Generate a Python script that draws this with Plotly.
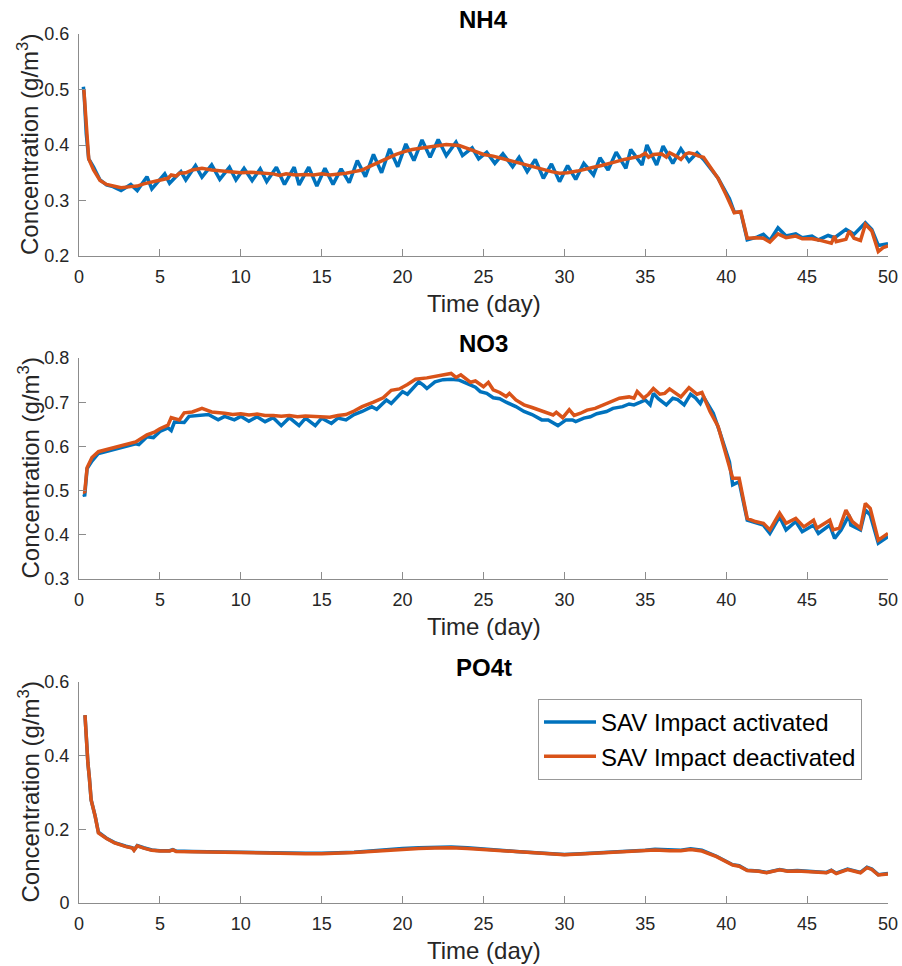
import plotly.graph_objects as go

# ---- NH4 (g/m3) ----
t_nh4_on = [0.27, 0.32, 0.45, 0.6, 0.9, 1.3, 1.7, 2.1, 2.6, 3.2, 3.6, 4.2, 4.5, 5.3, 5.6, 6.3, 6.6,
            7.2, 7.6, 8.2, 8.7, 9.3, 9.7, 10.2, 10.7, 11.2, 11.6, 12.2, 12.7, 13.3, 13.6, 14.2, 14.7,
            15.2, 15.7, 16.2, 16.7, 17.2, 17.7, 18.2, 18.7, 19.2, 19.7, 20.2, 20.7, 21.2, 21.7, 22.2,
            22.7, 23.3, 23.7, 24.3, 24.7, 25.2, 25.7, 26.2, 26.8, 27.2, 27.7, 28.2, 28.7, 29.2, 29.7,
            30.2, 30.7, 31.2, 31.8, 32.2, 32.7, 33.2, 33.8, 34.1, 34.8, 35.1, 35.7, 36.1, 36.7, 37.2,
            37.7, 38.2, 38.6, 39.0, 39.5, 40.2, 40.5, 40.9, 41.3, 41.9, 42.3, 42.7, 43.2, 43.7, 44.3,
            44.7, 45.3, 45.7, 46.3, 46.7, 47.4, 47.9, 48.6, 49.0, 49.4, 50.0]
nh4_on = [0.505, 0.49, 0.42, 0.375, 0.36, 0.337, 0.328, 0.325, 0.318, 0.329, 0.318, 0.343, 0.321, 0.348,
          0.331, 0.352, 0.337, 0.363, 0.342, 0.364, 0.338, 0.36, 0.337, 0.358, 0.336, 0.357, 0.334, 0.36,
          0.329, 0.36, 0.328, 0.36, 0.326, 0.358, 0.329, 0.357, 0.332, 0.372, 0.343, 0.383, 0.35, 0.393,
          0.361, 0.402, 0.372, 0.409, 0.378, 0.41, 0.381, 0.405, 0.381, 0.395, 0.375, 0.387, 0.367, 0.384,
          0.361, 0.378, 0.352, 0.374, 0.34, 0.366, 0.334, 0.363, 0.338, 0.367, 0.346, 0.377, 0.355, 0.387,
          0.358, 0.392, 0.364, 0.4, 0.364, 0.398, 0.367, 0.393, 0.371, 0.386, 0.374, 0.358, 0.34, 0.303,
          0.279, 0.279, 0.229, 0.234, 0.239, 0.228, 0.251, 0.236, 0.24, 0.233, 0.236, 0.229, 0.237, 0.233,
          0.248, 0.239, 0.26, 0.248, 0.219, 0.222]

t_nh4_off = [0.3, 0.35, 0.45, 0.6, 0.9, 1.3, 1.7, 2.1, 2.6, 3.2, 3.6, 4.0, 4.5, 5.0, 5.5, 5.7, 6.0, 6.2,
             6.6, 7.0, 7.6, 8.2, 8.8, 9.3, 10.0, 10.6, 11.3, 12.0, 12.4, 12.8, 13.4, 14.0, 14.5, 15.0, 15.5,
             16.0, 16.5, 17.0, 17.5, 18.0, 18.6, 19.1, 19.6, 20.1, 20.6, 21.1, 21.6, 22.1, 22.7, 23.1, 23.5,
             24.0, 24.5, 25.0, 25.6, 26.1, 26.6, 27.1, 27.7, 28.2, 28.7, 29.2, 29.7, 30.2, 30.8, 31.3, 31.8,
             32.3, 32.8, 33.2, 33.7, 34.2, 34.7, 35.0, 35.2, 35.5, 36.0, 36.3, 36.5, 36.9, 37.2, 37.5, 37.7,
             38.0, 38.3, 38.6, 39.0, 39.5, 40.0, 40.3, 40.5, 40.9, 41.3, 41.9, 42.3, 42.7, 43.2, 43.7, 44.3,
             44.7, 45.3, 45.7, 46.3, 46.5, 46.7, 46.8, 47.4, 47.6, 47.9, 48.3, 48.6, 49.0, 49.4, 49.7, 50.0]
nh4_off = [0.5, 0.48, 0.42, 0.375, 0.355, 0.336, 0.329, 0.326, 0.323, 0.325, 0.326, 0.33, 0.333, 0.336,
           0.34, 0.346, 0.344, 0.349, 0.35, 0.355, 0.358, 0.355, 0.353, 0.352, 0.35, 0.351, 0.349, 0.348,
           0.345, 0.348, 0.346, 0.347, 0.346, 0.348, 0.346, 0.347, 0.349, 0.352, 0.355, 0.362, 0.37, 0.376,
           0.383, 0.388, 0.392, 0.394, 0.396, 0.398, 0.401, 0.4, 0.399, 0.394, 0.389, 0.383, 0.38, 0.376,
           0.372, 0.368, 0.364, 0.36, 0.355, 0.352, 0.349, 0.35, 0.353, 0.357, 0.36, 0.363, 0.366, 0.37,
           0.374, 0.377, 0.38, 0.385, 0.378, 0.383, 0.384, 0.378, 0.386, 0.38, 0.374, 0.384, 0.386, 0.384,
           0.38, 0.378, 0.36, 0.34, 0.31, 0.29, 0.278, 0.28, 0.232, 0.233, 0.232, 0.225, 0.24, 0.233, 0.236,
           0.231, 0.231, 0.229, 0.225, 0.223, 0.236, 0.226, 0.23, 0.245, 0.232, 0.228, 0.257, 0.245, 0.208,
           0.215, 0.218]

# ---- NO3 (g/m3) ----
t_no3_on = [0.3, 0.35, 0.5, 0.8, 1.2, 1.8, 2.5, 3.0, 3.5, 3.7, 4.2, 4.6, 5.0, 5.5, 5.7, 5.9, 6.5, 6.8,
            7.5, 8.0, 8.6, 9.0, 9.6, 10.0, 10.5, 11.0, 11.5, 12.0, 12.5, 13.0, 13.6, 14.0, 14.6, 15.0,
            15.6, 16.0, 16.5, 17.0, 17.5, 18.1, 18.4, 18.8, 19.0, 19.3, 19.7, 20.0, 20.3, 20.7, 21.0,
            21.3, 21.5, 22.0, 22.5, 23.0, 23.5, 24.0, 24.5, 24.8, 25.2, 25.6, 26.0, 26.4, 27.0, 27.5,
            28.0, 28.6, 29.0, 29.6, 30.1, 30.5, 30.7, 31.2, 31.6, 32.0, 32.6, 33.0, 33.6, 34.0, 34.3,
            34.7, 35.0, 35.3, 35.5, 35.8, 36.3, 36.7, 37.0, 37.4, 37.8, 38.1, 38.4, 38.6, 39.2, 39.6,
            40.2, 40.4, 40.8, 41.3, 41.9, 42.3, 42.7, 43.3, 43.7, 44.3, 44.7, 45.4, 45.7, 46.4, 46.7,
            47.1, 47.6, 47.7, 48.3, 48.6, 48.9, 49.4, 50.0]
no3_on = [0.492, 0.487, 0.55, 0.567, 0.584, 0.59, 0.596, 0.6, 0.606, 0.604, 0.622, 0.62, 0.634, 0.642,
          0.636, 0.655, 0.654, 0.668, 0.671, 0.672, 0.66, 0.668, 0.66, 0.668, 0.657, 0.667, 0.656, 0.665,
          0.647, 0.665, 0.647, 0.664, 0.647, 0.664, 0.652, 0.664, 0.66, 0.672, 0.679, 0.69, 0.684, 0.698,
          0.705, 0.697, 0.714, 0.724, 0.718, 0.735, 0.746, 0.738, 0.731, 0.746, 0.751, 0.752, 0.75, 0.742,
          0.734, 0.724, 0.72, 0.71, 0.708, 0.7, 0.69, 0.679, 0.672, 0.66, 0.66, 0.647, 0.66, 0.66, 0.656,
          0.664, 0.667, 0.674, 0.679, 0.686, 0.69, 0.696, 0.694, 0.7, 0.705, 0.694, 0.72, 0.708, 0.694,
          0.709, 0.706, 0.694, 0.718, 0.71, 0.697, 0.712, 0.675, 0.633, 0.565, 0.513, 0.52, 0.433, 0.426,
          0.422, 0.403, 0.441, 0.411, 0.43, 0.407, 0.422, 0.403, 0.422, 0.392, 0.411, 0.445, 0.422, 0.411,
          0.456, 0.445, 0.381, 0.396]

t_no3_off = [0.3, 0.35, 0.5, 0.8, 1.2, 2.0, 2.5, 3.0, 3.5, 4.2, 4.7, 5.0, 5.5, 5.7, 6.2, 6.5, 7.0, 7.6,
             8.2, 9.0, 9.5, 10.0, 10.5, 11.0, 11.5, 12.0, 12.5, 13.0, 13.5, 14.0, 14.5, 15.0, 15.5, 16.0,
             16.5, 17.0, 17.5, 18.2, 18.8, 19.3, 19.8, 20.3, 20.8, 21.5, 22.0, 22.5, 23.0, 23.3, 23.6,
             24.2, 24.5, 25.0, 25.3, 25.6, 26.0, 26.4, 26.6, 27.0, 27.5, 28.0, 28.5, 29.0, 29.3, 29.5,
             29.9, 30.3, 30.6, 31.0, 31.4, 31.9, 32.4, 32.9, 33.4, 34.0, 34.3, 34.5, 34.9, 35.2, 35.5,
             35.9, 36.2, 36.5, 37.2, 37.7, 38.2, 38.5, 39.0, 39.5, 40.1, 40.4, 40.8, 41.3, 41.8, 42.3,
             42.7, 43.3, 43.7, 44.3, 44.8, 45.4, 45.6, 46.4, 46.6, 47.0, 47.4, 47.8, 48.3, 48.6, 48.9,
             49.4, 50.0]
no3_off = [0.497, 0.495, 0.552, 0.575, 0.588, 0.595, 0.6, 0.605, 0.61, 0.626, 0.633, 0.64, 0.648, 0.665,
           0.66, 0.676, 0.678, 0.686, 0.678, 0.675, 0.672, 0.674, 0.671, 0.673, 0.67, 0.67, 0.668, 0.67,
           0.667, 0.669, 0.668, 0.667, 0.666, 0.67, 0.672, 0.68, 0.69, 0.7, 0.71, 0.727, 0.73, 0.74, 0.752,
           0.755, 0.758, 0.763, 0.765, 0.756, 0.762, 0.745, 0.748, 0.735, 0.745, 0.728, 0.722, 0.713, 0.72,
           0.705, 0.694, 0.688, 0.682, 0.675, 0.671, 0.677, 0.665, 0.683, 0.67, 0.675, 0.682, 0.686, 0.694,
           0.7, 0.709, 0.712, 0.709, 0.724, 0.709, 0.718, 0.731, 0.718, 0.72, 0.73, 0.712, 0.733, 0.718,
           0.722, 0.679, 0.645, 0.565, 0.528, 0.528, 0.437, 0.43, 0.426, 0.411, 0.449, 0.426, 0.437, 0.418,
           0.433, 0.415, 0.433, 0.411, 0.415, 0.456, 0.43, 0.415, 0.471, 0.46, 0.388, 0.403]

# ---- PO4t (g/m3) ----
t_po4 = [0.37, 0.45, 0.55, 0.64, 0.75, 1.0, 1.2, 1.7, 2.2, 2.9, 3.3, 3.4, 3.6, 4.0, 4.5, 5.0, 5.6, 5.8,
         6.0, 7.0, 8.0, 9.0, 10.0, 11.0, 12.0, 13.0, 14.0, 15.0, 16.0, 17.0, 18.0, 19.0, 20.0, 21.0,
         22.0, 23.0, 24.0, 25.0, 26.0, 27.0, 28.0, 29.0, 30.0, 31.0, 32.0, 33.0, 34.0, 35.0, 35.6, 36.5,
         37.2, 37.8, 38.5, 39.4, 40.4, 40.8, 41.3, 42.0, 42.5, 43.3, 43.8, 44.4, 45.4, 46.2, 46.5, 46.8,
         47.5, 48.3, 48.7, 49.0, 49.4, 50.0]
po4_on = [0.51, 0.44, 0.38, 0.34, 0.28, 0.236, 0.192, 0.176, 0.164, 0.154, 0.15, 0.144, 0.156, 0.15,
          0.144, 0.142, 0.142, 0.145, 0.141, 0.14, 0.139, 0.138, 0.137, 0.137, 0.136, 0.136, 0.135, 0.135,
          0.136, 0.138, 0.141, 0.145, 0.148, 0.15, 0.151, 0.152, 0.15, 0.146, 0.143, 0.14, 0.137, 0.134,
          0.132, 0.134, 0.136, 0.138, 0.14, 0.143, 0.146, 0.144, 0.143, 0.147, 0.143, 0.127, 0.104, 0.101,
          0.089, 0.087, 0.083, 0.091, 0.087, 0.088, 0.085, 0.083, 0.089, 0.081, 0.092, 0.083, 0.097, 0.092,
          0.077, 0.08]
po4_off = [0.51, 0.44, 0.38, 0.34, 0.28, 0.235, 0.19, 0.175, 0.163, 0.153, 0.149, 0.143, 0.155, 0.149,
           0.143, 0.141, 0.141, 0.144, 0.14, 0.139, 0.138, 0.137, 0.136, 0.136, 0.135, 0.135, 0.134, 0.134,
           0.135, 0.137, 0.14, 0.143, 0.146, 0.148, 0.149, 0.15, 0.148, 0.145, 0.141, 0.139, 0.136, 0.133,
           0.131, 0.133, 0.135, 0.137, 0.139, 0.141, 0.144, 0.142, 0.142, 0.145, 0.141, 0.126, 0.103, 0.1,
           0.088, 0.086, 0.082, 0.09, 0.086, 0.087, 0.084, 0.082, 0.088, 0.08, 0.091, 0.082, 0.096, 0.091,
           0.076, 0.079]

panel_titles = ["NH4", "NO3", "PO4t"]
series_names = ["SAV Impact activated", "SAV Impact deactivated"]
x_ticks = [0, 5, 10, 15, 20, 25, 30, 35, 40, 45, 50]
y_ticks = [[0.2, 0.3, 0.4, 0.5, 0.6],
           [0.3, 0.4, 0.5, 0.6, 0.7, 0.8],
           [0, 0.2, 0.4, 0.6]]
y_tick_text = [["0.2", "0.3", "0.4", "0.5", "0.6"],
               ["0.3", "0.4", "0.5", "0.6", "0.7", "0.8"],
               ["0", "0.2", "0.4", "0.6"]]
y_ranges = [[0.2, 0.6], [0.3, 0.8], [0, 0.6]]

BLUE = "#0072BD"
ORANGE = "#D95319"
AXIS = "#8c8c8c"
FONT = "Liberation Sans, Arial, sans-serif"

W, H = 902, 966
# pixel layout of each panel (top, bottom) and the shared horizontal extent
panels_px = [(34, 256), (358, 579), (682, 903)]
x_left, x_right = 79, 888

data = [
    ((t_nh4_on, nh4_on), (t_nh4_off, nh4_off)),
    ((t_no3_on, no3_on), (t_no3_off, no3_off)),
    ((t_po4, po4_on), (t_po4, po4_off)),
]

fig = go.Figure()
annotations = []
for i, ((ta, ya), (tb, yb)) in enumerate(data):
    k = "" if i == 0 else str(i + 1)
    xa, yax = "x" + k, "y" + k
    fig.add_trace(go.Scatter(x=ta, y=ya, mode="lines", line=dict(color=BLUE, width=3.5),
                             name=series_names[0], showlegend=(i == 2), xaxis=xa, yaxis=yax))
    fig.add_trace(go.Scatter(x=tb, y=yb, mode="lines", line=dict(color=ORANGE, width=3.5),
                             name=series_names[1], showlegend=(i == 2), xaxis=xa, yaxis=yax))
    top, bot = panels_px[i]
    dom_y = [1 - bot / H, 1 - top / H]
    common = dict(showgrid=False, zeroline=False, showline=True, linecolor=AXIS, linewidth=1,
                  ticks="inside", ticklen=7, tickcolor=AXIS, tickwidth=1, mirror=False,
                  automargin=False, ticklabeloverflow="allow",
                  tickfont=dict(family=FONT, size=18, color="#262626"))
    fig.layout["xaxis" + k] = dict(domain=[x_left / W, x_right / W], range=[0, 50],
                                   tickvals=x_ticks, anchor=yax, ticklabelstandoff=4, **common)
    fig.layout["yaxis" + k] = dict(domain=dom_y, range=y_ranges[i], tickvals=y_ticks[i],
                                   ticktext=y_tick_text[i], anchor=xa, ticklabelstandoff=5, **common)
    mid_x = (x_left + x_right) / 2 / W
    annotations.append(dict(text="<b>" + panel_titles[i] + "</b>", x=mid_x, y=1 - (top - 15) / H,
                            xref="paper", yref="paper", showarrow=False, xanchor="center",
                            yanchor="middle", font=dict(family=FONT, size=24, color="black")))
    annotations.append(dict(text="Time (day)", x=mid_x, y=1 - (bot + 47) / H, xref="paper",
                            yref="paper", showarrow=False, xanchor="center", yanchor="middle",
                            font=dict(family=FONT, size=24, color="#262626")))
    annotations.append(dict(text="Concentration (g/m<sup>3</sup>)", x=28 / W,
                            y=1 - (top + bot) / 2 / H, xref="paper", yref="paper", textangle=-90,
                            showarrow=False, xanchor="center", yanchor="middle",
                            font=dict(family=FONT, size=24, color="#262626")))

fig.update_layout(
    width=W, height=H, margin=dict(l=0, r=0, t=0, b=0, autoexpand=False),
    paper_bgcolor="white", plot_bgcolor="white",
    annotations=annotations,
    legend=dict(x=538 / W, y=1 - 699 / H, xanchor="left", yanchor="top",
                bordercolor="#999999", borderwidth=1, bgcolor="white", itemwidth=52,
                font=dict(family=FONT, size=24, color="black"), tracegroupgap=0),
    showlegend=True,
)

# place the figure flush with the page edges
fig.write_html("out.html",
               post_script="document.body.style.margin='0';"
                           "document.body.style.overflow='hidden';")
